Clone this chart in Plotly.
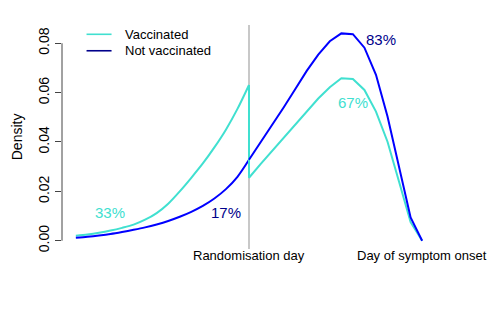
import plotly.graph_objects as go

# ---- data ----
days_before = list(range(-30, -14))          # -30 .. -15
days_after = list(range(-15, 1))             # -15 .. 0

vacc_before = [0.0020, 0.0025, 0.0032, 0.0041, 0.0052, 0.0065, 0.0085, 0.0112,
               0.0150, 0.0200, 0.0255, 0.0313, 0.0378, 0.0450, 0.0534, 0.0631]
vacc_after = [0.0255, 0.0310, 0.0363, 0.0416, 0.0470, 0.0524, 0.0576, 0.0622,
              0.0658, 0.0655, 0.0611, 0.0523, 0.0401, 0.0239, 0.0075, 0.0]

notvacc_before = [0.0012, 0.0016, 0.0021, 0.0027, 0.0035, 0.0044, 0.0054, 0.0066,
                  0.0080, 0.0097, 0.0117, 0.0141, 0.0171, 0.0209, 0.0259, 0.0328]
notvacc_after = [0.0328, 0.0398, 0.0468, 0.0540, 0.0614, 0.0688, 0.0754, 0.0808,
                 0.0840, 0.0837, 0.0782, 0.0672, 0.0503, 0.0294, 0.0094, 0.0]

randomisation_day = -15
onset_day = 0
y_ticks = [0.00, 0.02, 0.04, 0.06, 0.08]
y_tick_labels = ["0.00", "0.02", "0.04", "0.06", "0.08"]

pct_labels = [
    ("33%", -27.0, 0.0114, "#40E0D0"),
    ("17%", -17.0, 0.0114, "#00008B"),
    ("83%", -3.56, 0.0816, "#00008B"),
    ("67%", -5.98, 0.0560, "#40E0D0"),
]

CYAN = "#40E0D0"
BLUE = "#0000FF"
FONT = "Liberation Sans, Arial, Helvetica, sans-serif"

fig = go.Figure()

# before randomisation: smooth curves
fig.add_trace(go.Scatter(
    x=days_before, y=vacc_before, mode="lines",
    line=dict(color=CYAN, width=2, shape="spline", smoothing=0.8),
    showlegend=False, hoverinfo="skip"))
fig.add_trace(go.Scatter(
    x=days_before, y=notvacc_before, mode="lines",
    line=dict(color=BLUE, width=2, shape="spline", smoothing=0.8),
    showlegend=False, hoverinfo="skip"))
# after randomisation (vaccinated includes the drop at randomisation day)
fig.add_trace(go.Scatter(
    x=[days_before[-1]] + days_after, y=[vacc_before[-1]] + vacc_after, mode="lines",
    line=dict(color=CYAN, width=2), showlegend=False, hoverinfo="skip"))
fig.add_trace(go.Scatter(
    x=days_after, y=notvacc_after, mode="lines",
    line=dict(color=BLUE, width=2), showlegend=False, hoverinfo="skip"))

shapes = [
    dict(type="line", xref="x", yref="paper", x0=randomisation_day, x1=randomisation_day,
         y0=0, y1=1, line=dict(color="#C8C8C8", width=2), layer="below"),
    dict(type="line", xref="paper", yref="y", x0=0, x1=0, y0=y_ticks[0], y1=y_ticks[-1],
         line=dict(color="#444444", width=1)),
    dict(type="line", xref="paper", yref="paper", x0=0.0656, x1=0.1325, y0=0.9585, y1=0.9585,
         line=dict(color=CYAN, width=1.6)),
    dict(type="line", xref="paper", yref="paper", x0=0.0656, x1=0.1325, y0=0.885, y1=0.885,
         line=dict(color="#00008B", width=1.6)),
]

annotations = [
    dict(text="Vaccinated", xref="paper", yref="paper", x=0.162, y=0.9585,
         xanchor="left", yanchor="middle", showarrow=False,
         font=dict(size=13, color="black", family=FONT)),
    dict(text="Not vaccinated", xref="paper", yref="paper", x=0.162, y=0.885,
         xanchor="left", yanchor="middle", showarrow=False,
         font=dict(size=13, color="black", family=FONT)),
    dict(text="Randomisation day", xref="x", yref="paper", x=randomisation_day, y=-0.027,
         xanchor="center", yanchor="middle", showarrow=False,
         font=dict(size=13, color="black", family=FONT)),
    dict(text="Day of symptom onset", xref="x", yref="paper", x=onset_day, y=-0.027,
         xanchor="center", yanchor="middle", showarrow=False,
         font=dict(size=13, color="black", family=FONT)),
    dict(text="Density", xref="paper", yref="paper", x=-0.1196, y=0.5, textangle=-90,
         xanchor="center", yanchor="middle", showarrow=False,
         font=dict(size=14, color="black", family=FONT)),
]
for txt, xx, yy, col in pct_labels:
    annotations.append(dict(text=txt, x=xx, y=yy, xref="x", yref="y", showarrow=False,
                            xanchor="center", yanchor="middle",
                            font=dict(size=15, color=col, family=FONT)))

# the page body adds an 8px offset, so the figure is 8px smaller and margins shifted
fig.update_layout(
    width=490, height=304,
    margin=dict(l=54, r=62, t=17, b=63, autoexpand=False),
    paper_bgcolor="white", plot_bgcolor="white",
    xaxis=dict(range=[-31.2, 1.2], visible=False, fixedrange=True, automargin=False),
    yaxis=dict(range=[-0.00336, 0.0874], tickvals=y_ticks, ticktext=y_tick_labels,
               ticks="outside", ticklen=6, tickcolor="#444444", tickangle=-90,
               showgrid=False, zeroline=False, showline=False, automargin=False,
               tickfont=dict(size=14, color="black", family=FONT), fixedrange=True),
    shapes=shapes, annotations=annotations,
    showlegend=False,
)

fig.write_html("out.html")
